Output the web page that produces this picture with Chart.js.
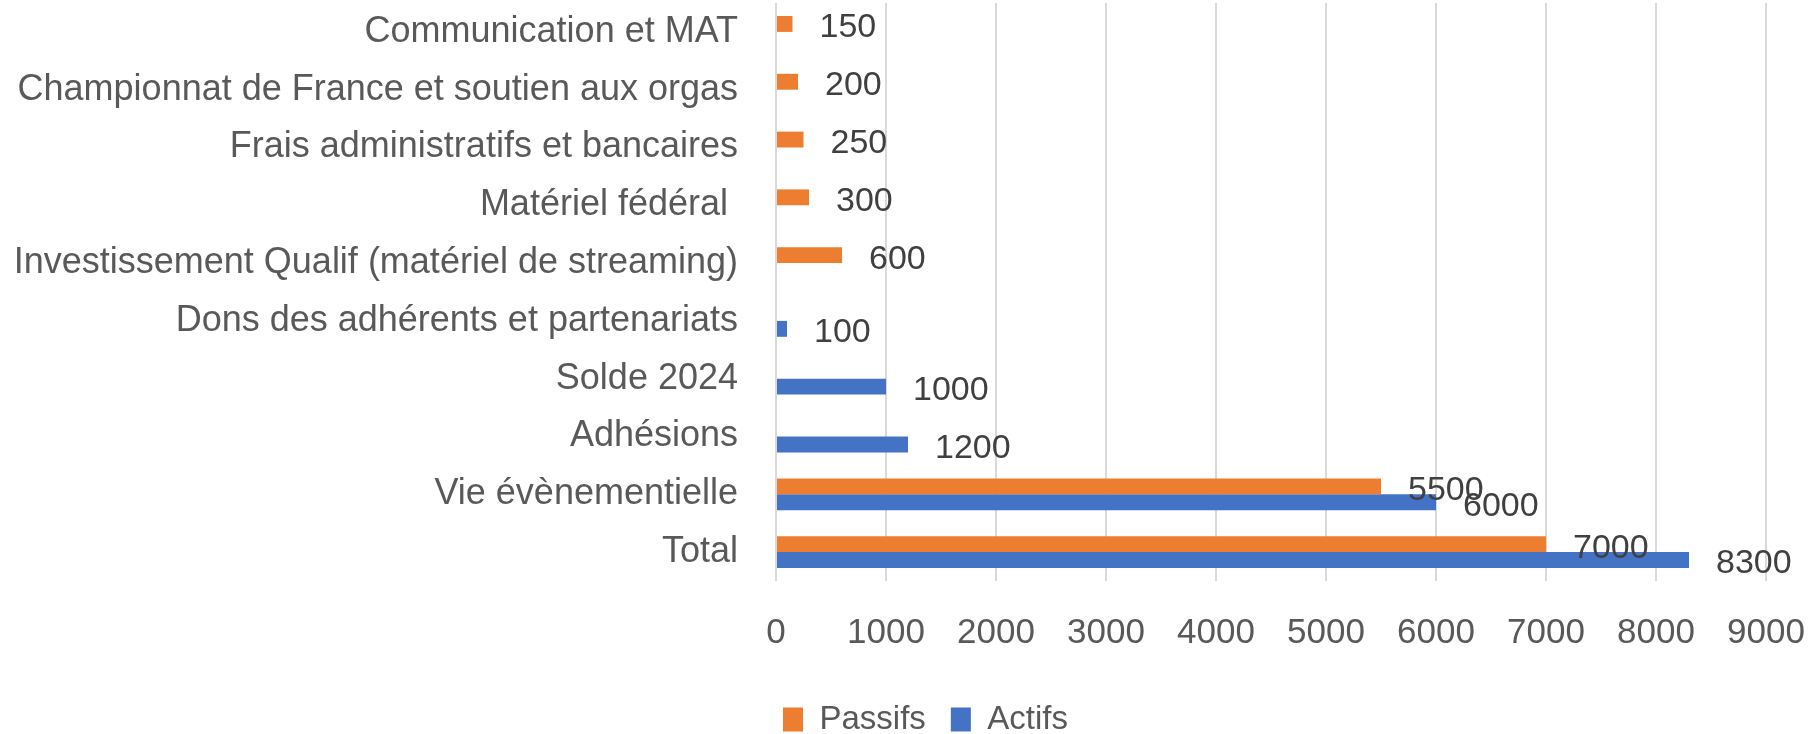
<!DOCTYPE html>
<html>
<head>
<meta charset="utf-8">
<script src="https://cdn.jsdelivr.net/npm/chart.js@4.4.1/dist/chart.umd.min.js"></script>
<style>
  html, body { margin: 0; padding: 0; background: #ffffff; }
  #wrap { width: 1813px; height: 734px; }
</style>
</head>
<body>
<div id="wrap"><canvas id="c" width="1813" height="734"></canvas></div>
<script>
const categories = [
  'Communication et MAT',
  'Championnat de France et soutien aux orgas',
  'Frais administratifs et bancaires',
  'Matériel fédéral ',
  'Investissement Qualif (matériel de streaming)',
  'Dons des adhérents et partenariats',
  'Solde 2024',
  'Adhésions',
  'Vie évènementielle',
  'Total'
];
const passifs = [150, 200, 250, 300, 600, null, null, null, 5500, 7000];
const actifs  = [null, null, null, null, null, 100, 1000, 1200, 6000, 8300];
const seriesNames = ['Passifs', 'Actifs'];
const xTicksMin = 0, xTicksMax = 9000, xTickStep = 1000;

const FONT = "'Liberation Sans', Arial, sans-serif";

const valueLabels = {
  id: 'valueLabels',
  afterDatasetsDraw(chart) {
    const ctx = chart.ctx;
    ctx.save();
    ctx.font = '34px ' + FONT;
    ctx.fillStyle = '#404040';
    ctx.textAlign = 'left';
    ctx.textBaseline = 'middle';
    chart.data.datasets.forEach((ds, di) => {
      const meta = chart.getDatasetMeta(di);
      meta.data.forEach((bar, i) => {
        const v = ds.data[i];
        if (v === null || v === undefined) return;
        ctx.fillText(String(v), bar.x + 27, bar.y + 4);
      });
    });
    ctx.restore();
  }
};

new Chart(document.getElementById('c'), {
  type: 'bar',
  data: {
    labels: categories,
    datasets: [
      { label: seriesNames[0], data: passifs, backgroundColor: '#ED7D31', borderWidth: 0,
        categoryPercentage: 0.55, barPercentage: 1.0 },
      { label: seriesNames[1], data: actifs, backgroundColor: '#4472C4', borderWidth: 0,
        categoryPercentage: 0.55, barPercentage: 1.0 }
    ]
  },
  options: {
    indexAxis: 'y',
    responsive: false,
    animation: false,
    devicePixelRatio: 1,
    layout: { padding: { left: 0, right: -38, top: 3, bottom: -12 } },
    plugins: {
      tooltip: { enabled: false },
      legend: {
        position: 'bottom',
        labels: {
          boxWidth: 20,
          boxHeight: 24,
          padding: 25,
          color: '#595959',
          font: { family: FONT, size: 33 }
        }
      }
    },
    scales: {
      x: {
        min: xTicksMin,
        max: xTicksMax,
        ticks: {
          stepSize: xTickStep,
          color: '#595959',
          font: { family: FONT, size: 35 },
          padding: 31,
          maxRotation: 0,
          autoSkip: false,
          callback: (v) => String(v)
        },
        grid: { color: '#D9D9D9', lineWidth: 2, drawTicks: false },
        border: { display: false },
        afterFit(s) { s.height = 97; s.paddingLeft = 0; s.paddingRight = 47; }
      },
      y: {
        ticks: {
          color: '#595959',
          font: { family: FONT, size: 36 },
          padding: 38,
          autoSkip: false
        },
        grid: { display: false, drawTicks: false },
        border: { display: false },
        afterFit(s) { s.width = 776; s.paddingTop = 0; s.paddingBottom = 0; }
      }
    }
  },
  plugins: [valueLabels]
});
</script>
</body>
</html>
